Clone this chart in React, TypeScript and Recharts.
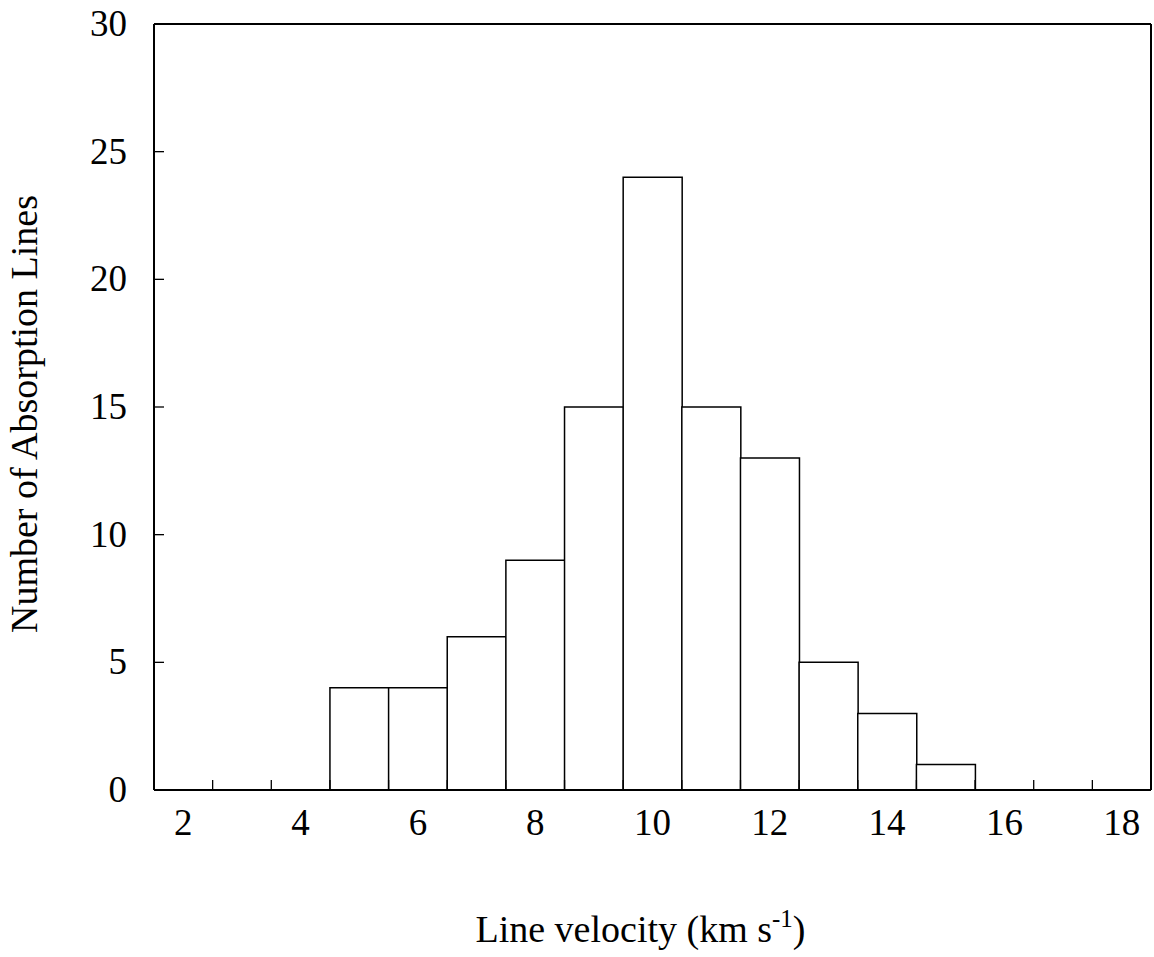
import React from 'react';
import { BarChart, Bar, XAxis, YAxis, Label, ReferenceLine } from 'recharts';

// velocity bins (km/s), one bar per integer bin
const velocityBins = ['2', '3', '4', '5', '6', '7', '8', '9', '10', '11', '12', '13', '14', '15', '16', '17', '18'];
const lineCounts = [0, 0, 0, 4, 4, 6, 9, 15, 24, 15, 13, 5, 3, 1, 0, 0, 0];
const countTicks = [0, 5, 10, 15, 20, 25, 30];
const labelledBins = ['2', '4', '6', '8', '10', '12', '14', '16', '18'];

const FONT = '"Liberation Serif", "Times New Roman", serif';

const chartData = velocityBins.map((bin, i) => ({ bin, count: lineCounts[i] }));

// tick marks sit on the bin edges and point inwards; labels stay on the bin centre
const VelocityTick = (props: any) => {
    const { x, y, payload, width } = props;
    const half = payload.offset ?? width / (velocityBins.length * 2);
    const edge = x - half;
    return (
        <g>
            <line x1={edge} y1={y} x2={edge} y2={y - 10} stroke="#000" strokeWidth={1.3} />
            {labelledBins.includes(String(payload.value)) && (
                <text x={x} y={y + 45} textAnchor="middle" fontSize={37} fontFamily={FONT} fill="#000">
                    {payload.value}
                </text>
            )}
        </g>
    );
};

const CountTick = (props: any) => {
    const { x, y, payload } = props;
    return (
        <g>
            <line x1={x} y1={y} x2={x + 10} y2={y} stroke="#000" strokeWidth={1.3} />
            <text x={x - 27} y={y + 12} textAnchor="end" fontSize={37} fontFamily={FONT} fill="#000">
                {payload.value}
            </text>
        </g>
    );
};

const XTitle = ({ viewBox }: any) => {
    const cx = viewBox.x + viewBox.width / 2 - 12;
    return (
        <text x={cx} y={viewBox.y + 152} textAnchor="middle" fontSize={38} fontFamily={FONT} fill="#000">
            Line velocity (km s
            <tspan dy={-15} fontSize={25}>-1</tspan>
            <tspan dy={15}>)</tspan>
        </text>
    );
};

const YTitle = ({ viewBox }: any) => {
    const x = viewBox.x + 37;
    const y = viewBox.y + viewBox.height / 2 + 7;
    return (
        <text x={x} y={y} textAnchor="middle" fontSize={38} fontFamily={FONT} fill="#000" transform={`rotate(-90, ${x}, ${y})`}>
            Number of Absorption Lines
        </text>
    );
};

const App: React.FC = () => {
    return (
        <div style={{ position: 'absolute', left: 0, top: 0, background: '#fff' }}>
            <BarChart
                width={1154}
                height={957}
                data={chartData}
                margin={{ top: 24, right: 3, left: 0, bottom: 0 }}
                barCategoryGap={0}
                barGap={0}
            >
                <XAxis
                    dataKey="bin"
                    height={167}
                    interval={0}
                    tickSize={0}
                    tickMargin={0}
                    tickLine={false}
                    axisLine={{ stroke: '#000', strokeWidth: 2 }}
                    tick={(p: any) => <VelocityTick {...p} />}
                >
                    <Label content={<XTitle />} />
                </XAxis>
                <YAxis
                    width={154}
                    domain={[0, 30]}
                    ticks={countTicks}
                    interval={0}
                    tickSize={0}
                    tickMargin={0}
                    tickLine={false}
                    axisLine={{ stroke: '#000', strokeWidth: 2 }}
                    tick={(p: any) => <CountTick {...p} />}
                >
                    <Label content={<YTitle />} />
                </YAxis>
                <Bar dataKey="count" fill="#fff" stroke="#000" strokeWidth={1.5} isAnimationActive={false} />
                {/* top and right sides of the plot box */}
                <ReferenceLine y={30} stroke="#000" strokeWidth={2} ifOverflow="visible" />
                <ReferenceLine
                    x={velocityBins[velocityBins.length - 1]}
                    position="end"
                    stroke="#000"
                    strokeWidth={2}
                    ifOverflow="visible"
                />
            </BarChart>
        </div>
    );
};

export default App;
